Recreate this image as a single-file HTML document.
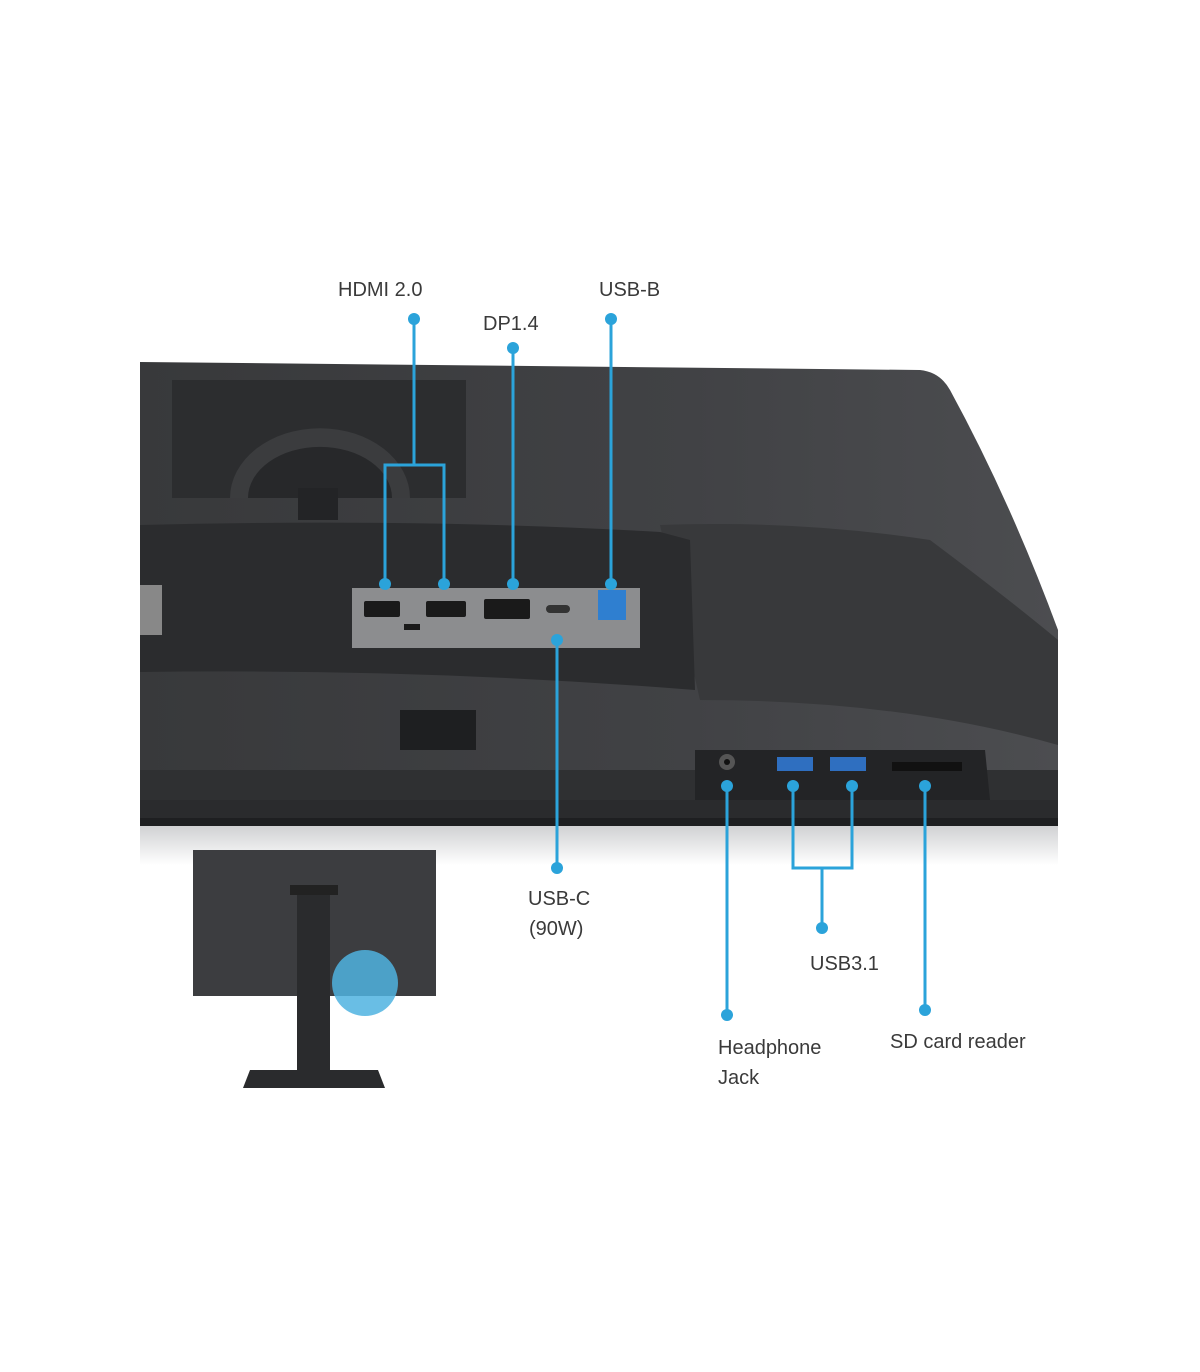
<!DOCTYPE html>
<html><head><meta charset="utf-8"><style>
html,body{margin:0;padding:0;background:#fff;}
svg{display:block}
text{font-family:"Liberation Sans",sans-serif;font-size:20px;fill:#3a3a3a;}
</style></head><body>
<svg width="1200" height="1372" viewBox="0 0 1200 1372" xmlns="http://www.w3.org/2000/svg">
<defs>
<linearGradient id="body" x1="0" y1="0" x2="1" y2="0">
<stop offset="0" stop-color="#38393b"/><stop offset="0.6" stop-color="#414245"/><stop offset="1" stop-color="#4c4d50"/>
</linearGradient>
<linearGradient id="shadow" x1="0" y1="0" x2="0" y2="1">
<stop offset="0" stop-color="#cfd0d2"/><stop offset="1" stop-color="#ffffff"/>
</linearGradient>
</defs>
<rect x="140" y="825" width="918" height="40" fill="url(#shadow)"/>
<path d="M140 362 L920 370 Q940 372 950 390 Q1010 500 1058 630 L1058 826 L140 826 Z" fill="url(#body)"/>
<path d="M660 525 Q800 520 930 540 Q1010 600 1058 640 L1058 745 Q900 700 700 700 Z" fill="#38393b"/>
<rect x="172" y="380" width="294" height="118" fill="#2c2d2f"/>
<path d="M230 498 A80 62 0 0 1 410 498 Z" fill="#3b3c3e"/>
<path d="M248 498 A62 44 0 0 1 392 498 Z" fill="#27282a"/>
<rect x="298" y="488" width="40" height="32" fill="#232426"/>
<path d="M140 525 Q420 518 660 532 L690 540 L695 690 Q420 668 140 672 Z" fill="#2b2c2e"/>
<rect x="140" y="585" width="22" height="50" fill="#888"/>
<rect x="352" y="588" width="288" height="60" fill="#8c8d8f"/>
<rect x="364" y="601" width="36" height="16" rx="2" fill="#1a1a1a"/>
<rect x="426" y="601" width="40" height="16" rx="2" fill="#1a1a1a"/>
<rect x="484" y="599" width="46" height="20" rx="2" fill="#1a1a1a"/>
<rect x="546" y="605" width="24" height="8" rx="4" fill="#333"/>
<rect x="598" y="590" width="28" height="30" fill="#2f7fd0"/>
<rect x="404" y="624" width="16" height="6" fill="#1a1a1a"/>
<rect x="400" y="710" width="76" height="40" fill="#1e1f21"/>
<rect x="140" y="770" width="918" height="30" fill="#2f3032"/>
<rect x="140" y="800" width="918" height="26" fill="#2a2b2d"/>
<path d="M695 750 L985 750 L990 800 L695 800 Z" fill="#232426"/>
<circle cx="727" cy="762" r="8" fill="#555"/><circle cx="727" cy="762" r="3" fill="#111"/>
<rect x="777" y="757" width="36" height="14" fill="#2f6fc0"/>
<rect x="830" y="757" width="36" height="14" fill="#2f6fc0"/>
<rect x="892" y="762" width="70" height="9" fill="#111"/>
<rect x="140" y="818" width="918" height="8" fill="#1e1f21"/>
<rect x="193" y="850" width="243" height="146" fill="#3c3d40"/>
<rect x="290" y="885" width="48" height="10" fill="#222"/>
<rect x="297" y="895" width="33" height="175" fill="#2a2b2d"/>
<path d="M243 1088 L250 1070 L378 1070 L385 1088 Z" fill="#2a2b2d"/>
<circle cx="365" cy="983" r="33" fill="#4fb3e0" opacity="0.85"/>
<g stroke="#2ba3da" stroke-width="3" fill="none">
<path d="M414 319 V465 M385 584 V465 H444 V584"/>
<path d="M513 348 V584"/>
<path d="M611 319 V584"/>
<path d="M557 640 V868"/>
<path d="M727 786 V1015"/>
<path d="M793 786 V868 H852 V786 M822 868 V928"/>
<path d="M925 786 V1010"/>
</g>
<g fill="#2ba3da">
<circle cx="414" cy="319" r="6"/><circle cx="385" cy="584" r="6"/><circle cx="444" cy="584" r="6"/>
<circle cx="513" cy="348" r="6"/><circle cx="513" cy="584" r="6"/>
<circle cx="611" cy="319" r="6"/><circle cx="611" cy="584" r="6"/>
<circle cx="557" cy="640" r="6"/><circle cx="557" cy="868" r="6"/>
<circle cx="727" cy="786" r="6"/><circle cx="727" cy="1015" r="6"/>
<circle cx="793" cy="786" r="6"/><circle cx="852" cy="786" r="6"/><circle cx="822" cy="928" r="6"/>
<circle cx="925" cy="786" r="6"/><circle cx="925" cy="1010" r="6"/>
</g>
<text x="338" y="296">HDMI 2.0</text>
<text x="483" y="330">DP1.4</text>
<text x="599" y="296">USB-B</text>
<text x="528" y="905">USB-C</text>
<text x="529" y="935">(90W)</text>
<text x="810" y="970">USB3.1</text>
<text x="718" y="1054">Headphone</text>
<text x="718" y="1084">Jack</text>
<text x="890" y="1048">SD card reader</text>
</svg>
</body></html>
